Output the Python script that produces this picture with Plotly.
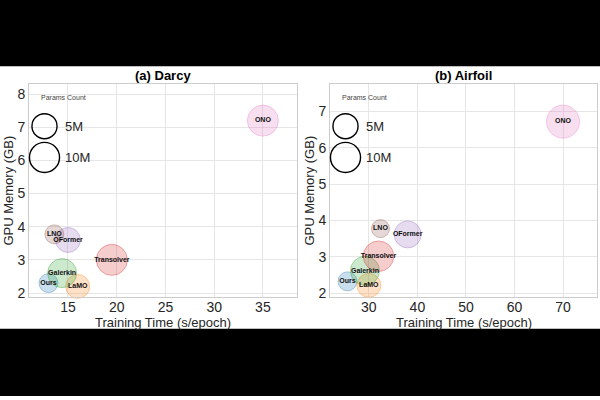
import numpy as np
import plotly.graph_objects as go

# ---------------- data ----------------
models = ["Ours", "LaMO", "Galerkin", "Transolver", "OFormer", "LNO", "ONO"]

darcy_time = [13.0, 16.0, 14.4, 19.5, 15.0, 13.6, 35.0]
darcy_mem = [2.3, 2.2, 2.6, 3.0, 3.6, 3.77, 7.2]
darcy_params = [1.2, 4.1, 8.8, 11.1, 4.9, 1.2, 11.1]

airfoil_time = [25.6, 30.0, 29.2, 32.0, 38.0, 32.4, 70.0]
airfoil_mem = [2.33, 2.22, 2.62, 3.02, 3.62, 3.78, 6.72]
airfoil_params = [1.2, 4.1, 8.8, 10.5, 6.7, 0.86, 13.7]

legend_params = [5, 10]
legend_labels = ["5M", "10M"]

panel_titles = ["(a) Darcy", "(b) Airfoil"]
x_title = "Training Time (s/epoch)"
y_title = "GPU Memory (GB)"

# ---------------- style ----------------
FONT = "Liberation Sans, Arial, sans-serif"
base_rgb = {
    "Ours": (31, 119, 180),
    "LaMO": (255, 127, 14),
    "Galerkin": (44, 160, 44),
    "Transolver": (214, 39, 40),
    "OFormer": (148, 103, 189),
    "LNO": (140, 86, 75),
    "ONO": (227, 119, 194),
}
fill = [f"rgba({r},{g},{b},0.33)" for (r, g, b) in (base_rgb[m] for m in models)]
edge = [f"rgba({r},{g},{b},0.55)" for (r, g, b) in (base_rgb[m] for m in models)]


def size_px(p):
    return 13 + 5.4 * np.sqrt(np.asarray(p, dtype=float))


W, H = 600, 400

def px_x(v):
    return v / W

def px_y(v):
    return 1 - v / H

fig = go.Figure()

panels = [
    dict(x=darcy_time, y=darcy_mem, p=darcy_params, xa="x", ya="y",
         xdom=[29, 297], xrange=[11.0, 38.5], yrange=[1.88, 8.3], dtick_x=5),
    dict(x=airfoil_time, y=airfoil_mem, p=airfoil_params, xa="x2", ya="y2",
         xdom=[330, 597], xrange=[22, 77], yrange=[1.9, 7.75], dtick_x=10),
]

for pn in panels:
    fig.add_trace(go.Scatter(
        x=pn["x"], y=pn["y"], text=models, mode="markers+text",
        xaxis=pn["xa"], yaxis=pn["ya"],
        marker=dict(size=size_px(pn["p"]), color=fill,
                    line=dict(color=edge, width=1), sizemode="diameter"),
        textposition="middle center",
        textfont=dict(family=FONT, size=7, color="#111111", weight="bold"),
        showlegend=False, hoverinfo="skip", cliponaxis=False,
    ))

axis_common = dict(
    showgrid=True, gridcolor="#e6e6e6", gridwidth=1,
    showline=True, linecolor="#cccccc", linewidth=1, mirror=True,
    zeroline=False, ticks="",
    tickfont=dict(family=FONT, size=14, color="#262626"),
)

plot_top, plot_bot = 85, 300
ydom = [px_y(plot_bot), px_y(plot_top)]

layout = dict(
    width=W, height=H, margin=dict(l=0, r=0, t=0, b=0),
    paper_bgcolor="white", plot_bgcolor="white",
    xaxis=dict(domain=[px_x(29), px_x(297)], range=panels[0]["xrange"],
               dtick=5, tick0=0, anchor="y", ticklabelstandoff=-3, **axis_common),
    yaxis=dict(domain=ydom, range=panels[0]["yrange"], dtick=1,
               anchor="x", **axis_common),
    xaxis2=dict(domain=[px_x(330), px_x(597)], range=panels[1]["xrange"],
                dtick=10, tick0=0, anchor="y2", ticklabelstandoff=-3, **axis_common),
    yaxis2=dict(domain=ydom, range=panels[1]["yrange"], dtick=1,
                anchor="x2", **axis_common),
)
fig.update_layout(**layout)

annotations = []
shapes = []

# black letterbox bars
shapes.append(dict(type="rect", xref="paper", yref="paper", x0=0, x1=1,
                   y0=px_y(67), y1=1, fillcolor="black", line=dict(width=0),
                   layer="above"))
shapes.append(dict(type="rect", xref="paper", yref="paper", x0=0, x1=1,
                   y0=0, y1=px_y(332), fillcolor="black", line=dict(width=0),
                   layer="above"))

for i, pn in enumerate(panels):
    x0, x1 = pn["xdom"]
    cx = (x0 + x1) / 2
    # title
    annotations.append(dict(text=f"<b>{panel_titles[i]}</b>", x=px_x(cx), y=px_y(76),
                            xref="paper", yref="paper", showarrow=False,
                            xanchor="center", yanchor="middle",
                            font=dict(family=FONT, size=13, color="black")))
    # axis titles
    annotations.append(dict(text=x_title, x=px_x(cx), y=px_y(326),
                            xref="paper", yref="paper", showarrow=False,
                            xanchor="center", yanchor="middle",
                            font=dict(family=FONT, size=13, color="#262626")))
    annotations.append(dict(text=y_title, x=px_x(x0 - 20), y=px_y((plot_top + plot_bot) / 2),
                            xref="paper", yref="paper", showarrow=False, textangle=-90,
                            xanchor="center", yanchor="middle",
                            font=dict(family=FONT, size=13, color="#262626")))
    # size legend
    annotations.append(dict(text="Params Count", x=px_x(x0 + 34), y=px_y(98),
                            xref="paper", yref="paper", showarrow=False,
                            xanchor="center", yanchor="middle",
                            font=dict(family=FONT, size=7, color="#444444")))
    leg_cy = [127.5, 159.0]
    for j, p in enumerate(legend_params):
        r = float(size_px(p)) / 2
        cxl = x0 + 15.5
        shapes.append(dict(type="circle", xref="paper", yref="paper",
                           xsizemode="pixel", ysizemode="pixel",
                           xanchor=px_x(cxl), yanchor=px_y(leg_cy[j]),
                           x0=-r, x1=r, y0=-r, y1=r,
                           line=dict(color="black", width=1.4),
                           fillcolor="rgba(0,0,0,0)"))
        annotations.append(dict(text=legend_labels[j], x=px_x(x0 + 33.5), y=px_y(leg_cy[j]),
                                xref="paper", yref="paper", showarrow=False,
                                xanchor="left", yanchor="middle",
                                font=dict(family=FONT, size=13, color="#262626")))

fig.update_layout(annotations=annotations, shapes=shapes)

fig.write_html("out.html")
